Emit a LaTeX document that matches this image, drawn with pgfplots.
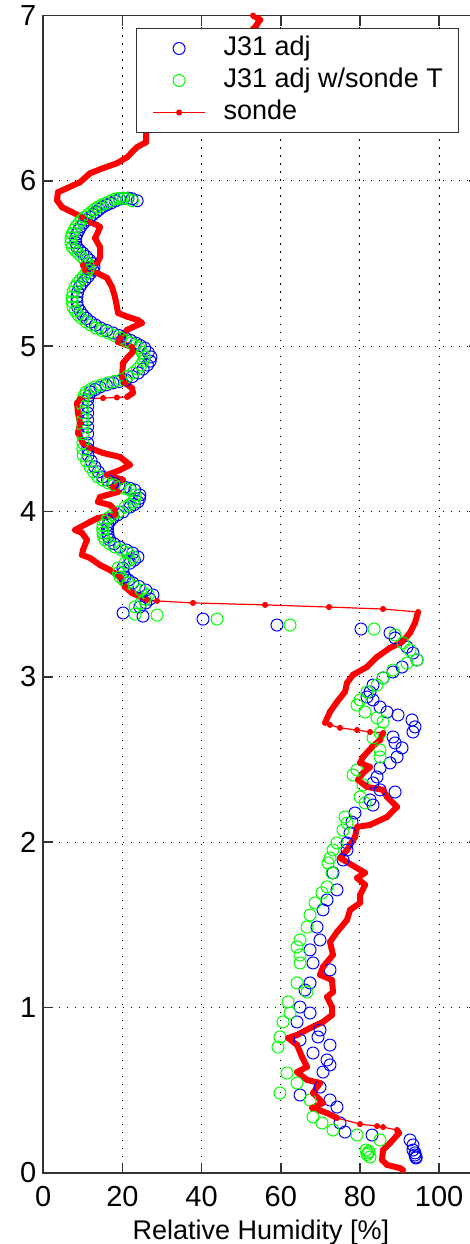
\documentclass[border=0pt]{standalone}
\usepackage{fontspec}
\setmainfont{Liberation Sans}
\usepackage{pgfplots}
\usepackage{pgfplotstable}
\pgfplotsset{compat=1.18}

\definecolor{mblue}{rgb}{0,0,1}
\definecolor{mgreen}{rgb}{0,1,0}
\definecolor{mred}{rgb}{1,0,0}
\definecolor{axgray}{gray}{0.2}

% retrieval in the dry layer (3.4-5.9 km): RH, J31 adj (xb) and J31 adj w/sonde T (xg)
\pgfplotstableread{
y xb xg
5.880 23.7 22.5
5.892 22.4 21.2
5.896 21.4 20.2
5.894 20.3 19.1
5.890 19.3 18.1
5.879 18.2 17.0
5.866 17.1 15.9
5.855 16.0 14.8
5.842 15.0 13.8
5.827 14.1 12.9
5.811 13.3 12.1
5.796 12.5 11.3
5.781 11.7 10.5
5.763 10.9 9.7
5.745 10.2 9.0
5.724 9.5 8.3
5.703 9.0 7.8
5.679 8.5 7.3
5.654 8.2 7.0
5.627 8.2 7.0
5.600 8.5 7.3
5.581 9.2 8.0
5.563 10.0 8.8
5.542 10.9 9.7
5.521 11.7 10.5
5.500 12.4 11.2
5.479 12.8 11.6
5.461 12.5 11.3
5.443 12.0 10.8
5.421 11.3 10.1
5.400 10.5 9.3
5.379 9.8 8.6
5.358 9.2 8.0
5.328 8.7 7.5
5.298 8.5 7.3
5.268 8.5 7.3
5.237 8.7 7.5
5.213 9.3 8.1
5.189 10.0 8.8
5.168 10.9 9.7
5.147 12.0 10.8
5.128 13.2 12.0
5.110 14.5 13.3
5.095 16.0 14.8
5.080 17.6 16.4
5.064 19.2 18.0
5.049 20.8 19.6
5.034 22.1 20.9
5.019 23.4 22.2
5.004 24.5 23.3
4.989 25.6 24.2
4.962 26.5 25.0
4.935 27.2 25.5
4.910 27.0 25.3
4.886 26.3 24.7
4.862 25.2 23.8
4.838 24.0 22.7
4.816 22.5 21.2
4.796 20.9 19.6
4.787 19.2 18.0
4.778 17.6 16.4
4.766 15.9 14.7
4.753 14.3 13.1
4.738 13.1 11.9
4.723 12.0 10.8
4.700 11.5 10.3
4.675 11.2 10.0
4.635 11.2 10.0
4.596 11.2 10.0
4.555 11.2 10.0
4.511 11.2 10.0
4.470 11.2 10.0
4.414 11.2 10.0
4.380 11.2 10.0
4.340 11.3 10.1
4.305 12.1 10.9
4.270 13.0 11.8
4.240 13.9 12.7
4.209 15.0 13.8
4.190 16.2 15.0
4.173 17.6 16.4
4.160 19.1 17.9
4.148 20.6 19.4
4.140 21.9 20.7
4.130 23.1 21.9
4.100 24.4 23.2
4.080 24.3 23.1
4.058 23.9 22.7
4.042 23.0 21.8
4.027 21.9 20.7
3.997 20.1 18.9
3.980 18.8 17.6
3.961 17.6 16.4
3.940 16.8 15.6
3.918 16.3 15.1
3.894 16.2 15.0
3.870 16.3 15.1
3.849 16.4 15.2
3.828 16.8 15.6
3.805 17.9 16.7
3.785 19.3 18.1
3.767 21.0 19.8
3.749 22.6 21.4
3.725 23.9 22.7
3.706 23.0 21.8
3.688 21.9 20.7
3.658 20.1 18.9
3.630 20.2 19.0
3.604 20.6 19.4
3.585 21.5 20.3
3.568 22.6 21.4
3.546 24.2 23.0
3.525 25.9 24.7
3.495 27.7 26.5
3.470 26.9 25.7
3.447 25.9 24.7
3.423 24.4 23.2
}\dryband

% J31 adj below the dry layer
\pgfplotstableread{
x y
20.16 3.386
25.19 3.367
40.35 3.349
59.04 3.313
80.27 3.289
87.60 3.265
88.87 3.235
91.89 3.180
93.40 3.144
94.41 3.102
90.63 3.059
88.36 3.029
85.83 2.993
83.30 2.950
82.54 2.908
81.79 2.878
83.30 2.860
85.07 2.817
86.84 2.787
89.62 2.769
93.15 2.739
93.91 2.697
93.40 2.666
88.36 2.636
88.87 2.600
90.63 2.570
89.37 2.515
87.60 2.479
85.07 2.448
84.31 2.394
83.30 2.358
85.07 2.316
88.87 2.303
82.54 2.255
83.30 2.224
78.75 2.176
77.99 2.121
77.49 2.055
76.73 1.995
76.73 1.952
75.72 1.892
73.19 1.814
74.20 1.711
71.68 1.650
70.67 1.590
69.15 1.486
69.91 1.408
67.39 1.348
68.14 1.269
72.43 1.227
67.39 1.148
66.12 1.105
64.86 1.002
67.39 0.966
64.10 0.912
69.91 0.863
69.40 0.821
64.86 0.803
72.43 0.772
68.14 0.724
71.68 0.682
72.43 0.652
70.67 0.609
69.91 0.518
64.86 0.470
72.43 0.440
74.20 0.397
74.96 0.301
76.22 0.246
83.05 0.228
92.65 0.198
93.40 0.168
93.40 0.137
93.91 0.120
93.91 0.107
94.16 0.095
94.16 0.089
}\bluelow

% J31 adj w/sonde T below the dry layer
\pgfplotstableread{
x y
23.17 3.379
28.73 3.373
43.89 3.349
62.33 3.313
83.55 3.289
88.87 3.253
90.88 3.205
92.65 3.162
94.41 3.102
91.89 3.083
88.36 3.041
85.83 2.993
84.31 2.950
81.79 2.908
80.02 2.860
79.26 2.829
81.29 2.787
84.31 2.751
85.83 2.727
85.07 2.660
83.30 2.630
85.07 2.557
85.07 2.515
79.26 2.436
78.25 2.406
80.78 2.346
80.02 2.273
81.29 2.237
76.22 2.152
76.73 2.115
75.72 2.073
74.20 1.995
73.19 1.952
72.43 1.904
71.93 1.874
72.94 1.814
71.68 1.729
70.41 1.693
68.65 1.632
67.39 1.559
66.63 1.486
64.86 1.408
64.10 1.366
64.86 1.317
64.86 1.269
64.10 1.148
66.63 1.093
61.83 1.033
62.33 0.966
60.56 0.912
59.80 0.821
59.30 0.760
61.57 0.603
64.10 0.543
59.80 0.482
67.39 0.440
68.14 0.337
70.41 0.301
73.19 0.258
79.26 0.228
85.07 0.198
81.54 0.137
82.04 0.119
82.54 0.095
81.80 0.110
82.30 0.128
}\greenlow

% radiosonde profile; w=0 marks the sparse points where the trace is thin
\pgfplotstableread{
x y w
53.00 7.000 1
54.80 6.975 1
54.20 6.955 1
53.70 6.935 1
25.96 6.295 1
25.96 6.234 1
23.67 6.204 1
21.15 6.143 1
18.62 6.107 1
15.08 6.077 1
11.80 6.046 1
9.27 5.992 1
5.99 5.956 1
3.71 5.932 1
3.46 5.883 1
4.72 5.841 1
7.25 5.811 1
9.78 5.781 1
11.80 5.751 1
13.57 5.733 1
14.33 5.721 1
13.82 5.691 1
13.06 5.654 1
14.33 5.600 1
14.33 5.539 1
13.57 5.503 1
10.03 5.491 1
10.54 5.461 1
13.57 5.443 1
16.09 5.413 1
17.36 5.358 1
18.11 5.298 1
18.62 5.237 1
18.87 5.201 1
21.40 5.177 1
23.93 5.158 1
24.94 5.140 1
22.66 5.116 1
21.15 5.098 1
19.38 5.049 1
18.87 5.025 1
22.41 4.995 1
22.66 4.965 1
21.40 4.935 1
20.14 4.898 1
19.88 4.813 1
20.64 4.777 1
22.41 4.747 1
22.66 4.717 1
21.15 4.693 1
18.60 4.690 0
15.10 4.686 0
9.27 4.681 1
8.51 4.656 1
8.77 4.596 1
9.27 4.535 1
8.77 4.475 1
10.03 4.414 1
11.80 4.384 1
15.08 4.354 1
19.38 4.330 1
21.90 4.282 1
19.38 4.251 1
16.09 4.221 1
20.14 4.191 1
17.61 4.148 1
18.87 4.118 1
14.33 4.088 1
13.82 4.058 1
16.85 4.039 1
18.11 4.009 1
18.11 3.979 1
13.82 3.961 1
11.80 3.937 1
8.01 3.888 1
9.78 3.870 1
11.04 3.828 1
10.03 3.767 1
9.78 3.737 1
11.80 3.719 1
14.33 3.676 1
16.85 3.646 1
19.38 3.604 1
20.64 3.543 1
22.41 3.507 1
26.20 3.465 1
28.73 3.459 0
37.82 3.447 0
56.02 3.435 0
72.19 3.422 0
85.83 3.410 0
94.68 3.392 1
93.91 3.326 1
92.65 3.266 1
90.63 3.211 1
87.60 3.175 1
84.31 3.120 1
81.79 3.060 1
78.25 3.012 1
76.73 2.963 1
76.22 2.909 1
74.20 2.848 1
72.43 2.788 1
71.17 2.721 1
72.43 2.709 0
74.96 2.691 0
79.26 2.678 0
82.54 2.666 0
85.83 2.660 1
85.07 2.618 1
83.05 2.575 1
80.78 2.515 1
80.02 2.479 1
82.54 2.454 1
80.78 2.418 1
79.51 2.376 1
81.79 2.334 1
85.83 2.316 1
86.84 2.273 1
89.37 2.213 1
86.84 2.152 1
82.54 2.104 1
79.26 2.092 1
78.75 2.031 1
76.73 1.952 1
74.96 1.904 1
81.29 1.814 1
79.26 1.783 1
81.29 1.741 1
80.02 1.680 1
80.02 1.632 1
77.49 1.589 1
76.73 1.529 1
74.20 1.456 1
72.43 1.396 1
73.19 1.318 1
70.67 1.245 1
69.91 1.197 1
72.94 1.166 1
73.19 1.093 1
71.68 1.063 1
72.94 1.002 1
72.94 0.954 1
70.67 0.912 1
67.39 0.875 1
64.10 0.833 1
61.83 0.815 1
64.10 0.773 1
65.37 0.700 1
66.63 0.640 1
64.10 0.609 1
66.63 0.561 1
69.91 0.543 1
68.14 0.482 1
70.67 0.422 1
67.89 0.392 1
71.68 0.361 1
74.20 0.331 1
80.02 0.294 0
84.31 0.282 0
85.83 0.276 0
89.37 0.258 1
89.87 0.240 1
87.60 0.179 1
85.83 0.137 1
85.57 0.077 1
86.84 0.047 1
90.12 0.028 1
90.88 0.016 1
}\sonde

\begin{document}
\begin{tikzpicture}
\begin{axis}[
  at={(0,0)}, anchor=south west,
  scale only axis,
  width=217.7pt, height=578.55pt,
  xmin=0, xmax=110, ymin=0, ymax=7,
  xtick={0,20,...,100}, ytick={0,1,...,7},
  grid=major,
  major grid style={black, line width=0.5pt, dash pattern=on 0.6pt off 3.4pt},
  axis line style={axgray, line width=0.8pt},
  tick style={axgray, line width=0.8pt},
  major tick length=5pt,
  tick align=inside,
  /pgf/number format/assume math mode=true,
  tick label style={font=\fontsize{14.5}{17}\selectfont, black},
  xticklabel style={yshift=-3pt},
  xlabel={Relative Humidity [\%]},
  label style={font=\fontsize{13.5}{16}\selectfont},
  legend cell align=left,
  legend image code/.code={\draw[mark repeat=2,mark phase=2,#1] plot coordinates {(0pt,0pt) (13pt,0pt) (26pt,0pt)};},
  legend style={
    at={(axis cs:23.42,6.925)}, anchor=north west,
    draw=axgray, line width=0.5pt, fill=white,
    font=\fontsize{13.5}{16}\selectfont,
    inner xsep=8pt, inner ysep=3.5pt,
    row sep=3pt, column sep=9pt,
    nodes={inner sep=0pt, text height=10pt, text depth=3pt},
  },
]
\addplot[only marks, mark=o, mark size=3pt, color=mblue, mark options={line width=0.5pt}]
  table[x=xb, y=y] {\dryband};
\addlegendentry{J31 adj}
\addplot[only marks, mark=o, mark size=3pt, color=mblue, mark options={line width=0.5pt}, forget plot]
  table[x=x, y=y] {\bluelow};
\addplot[only marks, mark=o, mark size=3pt, color=mgreen, mark options={line width=0.5pt}]
  table[x=xg, y=y] {\dryband};
\addlegendentry{J31 adj w/sonde T}
\addplot[only marks, mark=o, mark size=3pt, color=mgreen, mark options={line width=0.5pt}, forget plot]
  table[x=x, y=y] {\greenlow};
% dense parts of the sonde trace
\addplot[color=mred, line width=3pt, line join=round, no marks, forget plot,
  unbounded coords=jump, restrict expr to domain={\thisrow{w}}{0.5:1.5}]
  table[x=x, y=y] {\sonde};
\addplot[color=mred, line width=0.6pt, mark=*, mark size=1.2pt]
  table[x=x, y=y] {\sonde};
\addlegendentry{sonde}
\end{axis}
\pgfresetboundingbox
\useasboundingbox (-21.65pt,-35.65pt) rectangle (213.35pt,586.35pt);
\end{tikzpicture}
\end{document}
